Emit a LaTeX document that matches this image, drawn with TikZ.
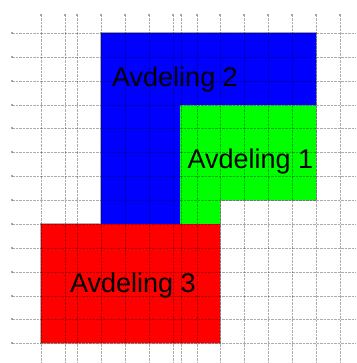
\documentclass[tikz,border=0pt]{standalone}
\usepackage{fontspec}
\setmainfont{Liberation Sans}
\begin{document}
\begin{tikzpicture}[x=1pt,y=-1pt,
  gridline/.style={black,opacity=0.32,line width=0.5pt,dash pattern=on 2.5pt off 1pt},
  gridmark/.style={fill=black!45,draw=none},
  outline/.style={draw=black!30,line width=2.2pt,line join=miter},
  label/.style={anchor=base,inner sep=0pt,font=\fontsize{27}{32}\selectfont,text=black}]
\useasboundingbox (0,0) rectangle (356,363);
% outline under the fills
\draw[outline] (101,33) -- (316,33) -- (316,200) -- (220,200) -- (220,343) -- (41,343) -- (41,224) -- (101,224) -- cycle;
% fills
\fill[blue] (101,33) -- (316,33) -- (316,105.5) -- (180,105.5) -- (180,224) -- (101,224) -- cycle;
\fill[green] (180,105.5) -- (316,105.5) -- (316,200) -- (220,200) -- (220,224) -- (180,224) -- cycle;
\fill[red] (41,224) rectangle (220,343);
% grid
\foreach \gx in {41,65,77,101,125,149,173,181,197,220,244,268,292,316,340}{
  \draw[gridline] (\gx,15) -- (\gx,363);
  \fill[gridmark] (\gx,15) circle (1.1pt);
}
\foreach \gy in {33,57,81,105,128,152,176,200,224,248,272,296,319,343}{
  \draw[gridline] (12,\gy) -- (356,\gy);
  \fill[gridmark] (12,\gy) circle (1.1pt);
}
% labels
\node[label] (a2) at (175,86.7) {Avdeling 2};
\node[label] (a1) at (250.3,168.3) {Avdeling 1};
\node[label] (a3) at (133,292.3) {Avdeling 3};
\end{tikzpicture}
\end{document}
